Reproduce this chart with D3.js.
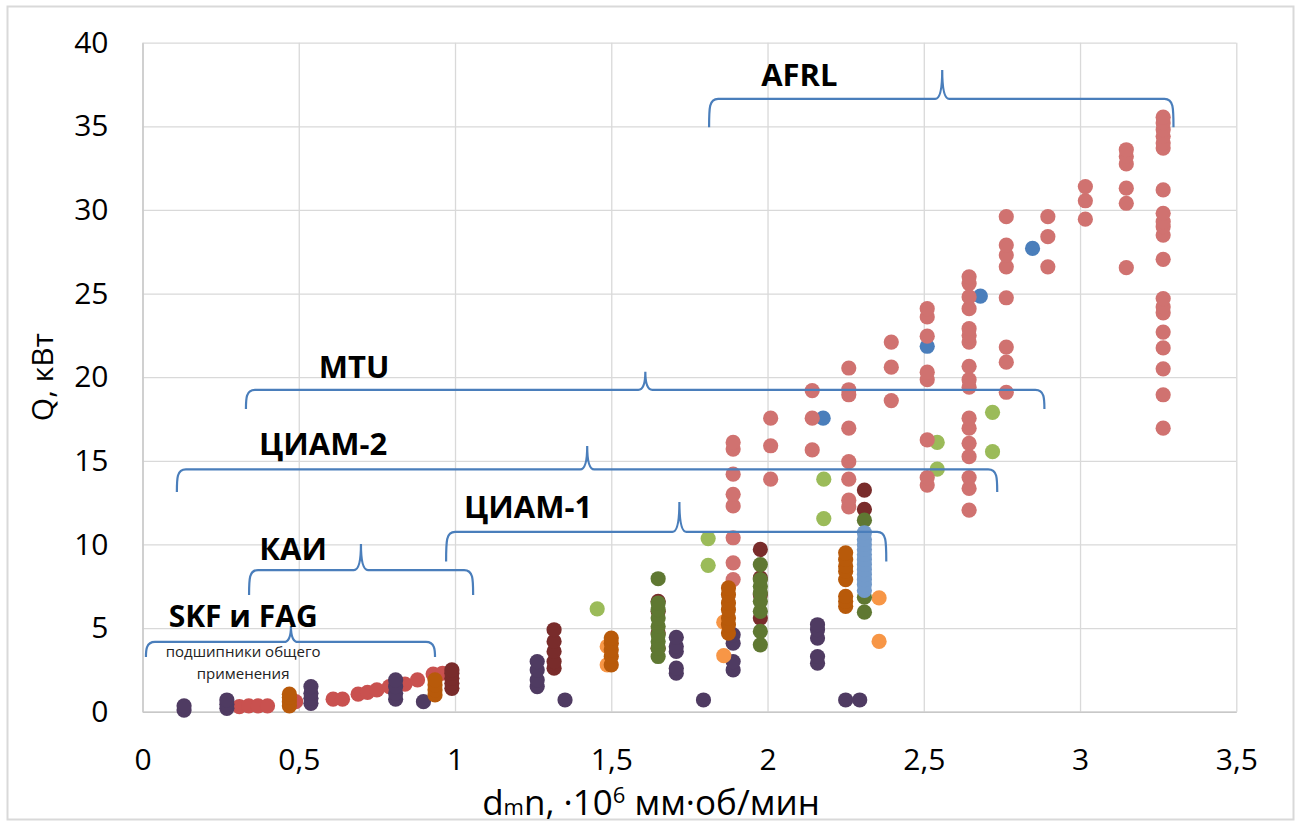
<!DOCTYPE html>
<html>
<head>
<meta charset="utf-8">
<script src="https://cdn.jsdelivr.net/npm/d3@7"></script>
<style>
  body { margin: 0; background: #fff; }
  text { font-family: "Open Sans", "Noto Sans", sans-serif; }
</style>
</head>
<body>
<div id="vis-container"></div>
<script>
// ticks
const xTicks = [0, 0.5, 1, 1.5, 2, 2.5, 3, 3.5];
const yTicks = [0, 5, 10, 15, 20, 25, 30, 35, 40];

// series, [dmn, Q]
const blue = [[2.178, 17.55], [2.511, 21.85], [2.681, 24.85], [2.848, 27.7]];
const lightGreen = [[1.455, 6.15], [1.81, 8.75], [1.81, 10.35], [2.18, 11.55], [2.18, 13.9],
    [2.543, 14.5], [2.543, 16.1], [2.72, 15.55], [2.72, 17.9]];
const pink = [
    [1.89, 7.9], [1.89, 8.9], [1.89, 10.4], [1.89, 12.3], [1.89, 13.0], [1.89, 14.2], [1.89, 15.7], [1.89, 16.1],
    [2.01, 13.9], [2.01, 15.9], [2.01, 17.55],
    [2.143, 15.65], [2.143, 17.55], [2.143, 19.2],
    [2.26, 12.25], [2.26, 12.65], [2.26, 13.9], [2.26, 14.95], [2.26, 16.95], [2.26, 18.95], [2.26, 19.25], [2.26, 20.55],
    [2.396, 18.6], [2.396, 20.6], [2.396, 22.1],
    [2.511, 13.55], [2.511, 14.0], [2.511, 16.25], [2.511, 19.85], [2.511, 20.3], [2.511, 22.45], [2.511, 23.6], [2.511, 24.1],
    [2.645, 12.05], [2.645, 13.35], [2.645, 14.0], [2.645, 15.25], [2.645, 16.05], [2.645, 16.95], [2.645, 17.55],
    [2.645, 19.4], [2.645, 19.85], [2.645, 20.65], [2.645, 22.1], [2.645, 22.5], [2.645, 22.9], [2.645, 24.1],
    [2.645, 24.8], [2.645, 25.6], [2.645, 26.0],
    [2.764, 19.1], [2.764, 20.9], [2.764, 21.8], [2.764, 24.75], [2.764, 26.6], [2.764, 27.3], [2.764, 27.9], [2.764, 29.6],
    [2.897, 26.6], [2.897, 28.4], [2.897, 29.6],
    [3.017, 29.45], [3.017, 30.55], [3.017, 31.4],
    [3.148, 26.55], [3.148, 30.4], [3.148, 31.3], [3.148, 32.75], [3.148, 33.2], [3.148, 33.6],
    [3.266, 16.95], [3.266, 18.95], [3.266, 20.5], [3.266, 21.75], [3.266, 22.7], [3.266, 23.85], [3.266, 24.2],
    [3.266, 24.7], [3.266, 27.05], [3.266, 28.5], [3.266, 29.0], [3.266, 29.3], [3.266, 29.8], [3.266, 31.2],
    [3.266, 33.7], [3.266, 34.0], [3.266, 34.4], [3.266, 34.8], [3.266, 35.2], [3.266, 35.55]];
const red = [[0.31, 0.3], [0.34, 0.35], [0.37, 0.35], [0.40, 0.35], [0.49, 0.6], [0.61, 0.75], [0.64, 0.75],
    [0.69, 1.05], [0.72, 1.15], [0.75, 1.3], [0.79, 1.5], [0.84, 1.65], [0.88, 1.9], [0.93, 2.25], [0.96, 2.3]];
const purple = [
    [0.133, 0.1], [0.133, 0.35],
    [0.27, 0.2], [0.27, 0.45], [0.27, 0.7],
    [0.539, 0.5], [0.539, 0.8], [0.539, 1.1], [0.539, 1.5],
    [0.81, 0.75], [0.81, 1.1], [0.81, 1.5], [0.81, 1.9],
    [0.899, 0.6],
    [1.263, 1.5], [1.263, 1.9], [1.263, 2.5], [1.263, 3.0],
    [1.352, 0.7],
    [1.708, 2.3], [1.708, 2.6], [1.708, 3.6], [1.708, 3.9], [1.708, 4.45],
    [1.795, 0.7],
    [1.89, 2.5], [1.89, 3.0], [1.89, 4.1], [1.89, 4.6],
    [2.16, 2.9], [2.16, 3.3], [2.16, 4.4], [2.16, 4.9], [2.16, 5.2],
    [2.25, 0.7], [2.295, 0.7]];
const lightOrange = [[1.487, 2.8], [1.487, 3.9], [1.86, 3.35], [1.86, 5.35], [2.357, 4.2], [2.357, 6.8]];
const orangeBrown = [
    [0.47, 0.35], [0.47, 0.6], [0.47, 0.85], [0.47, 1.05],
    [0.936, 1.0], [0.936, 1.3], [0.936, 1.6], [0.936, 1.9],
    [1.5, 2.8], [1.5, 3.3], [1.5, 3.7], [1.5, 4.1], [1.5, 4.4],
    [1.875, 4.7], [1.875, 5.2], [1.875, 5.6], [1.875, 6.1], [1.875, 6.5], [1.875, 7.0], [1.875, 7.4],
    [2.25, 6.3], [2.25, 6.6], [2.25, 6.9], [2.25, 7.9], [2.25, 8.4], [2.25, 8.7], [2.25, 9.1], [2.25, 9.5]];
const maroon = [
    [0.99, 1.4], [0.99, 1.7], [0.99, 2.0], [0.99, 2.3], [0.99, 2.5],
    [1.317, 2.6], [1.317, 3.0], [1.317, 3.6], [1.317, 4.2], [1.317, 4.9],
    [1.65, 3.8], [1.65, 4.7], [1.65, 6.0], [1.65, 6.6],
    [1.977, 5.6], [1.977, 7.0], [1.977, 8.0], [1.977, 9.7],
    [2.31, 12.1], [2.31, 13.25]];
const olive = [
    [1.65, 3.3], [1.65, 3.8], [1.65, 4.2], [1.65, 4.6], [1.65, 5.1], [1.65, 5.6], [1.65, 6.1], [1.65, 6.5], [1.65, 7.95],
    [1.977, 4.0], [1.977, 4.8], [1.977, 6.0], [1.977, 6.6], [1.977, 7.1], [1.977, 7.5], [1.977, 7.9], [1.977, 8.8],
    [2.31, 5.95], [2.31, 6.85], [2.31, 11.45]];
const lightBlue = [[2.31, 7.25], [2.31, 7.6], [2.31, 7.9], [2.31, 8.2], [2.31, 8.5], [2.31, 8.8],
    [2.31, 9.1], [2.31, 9.4], [2.31, 9.7], [2.31, 10.0], [2.31, 10.3], [2.31, 10.7]];

// brackets: x from, x to, tip x, level, tip top, end bottom (data units)
const bracketNames = ["AFRL", "MTU", "ЦИАМ-2", "ЦИАМ-1", "КАИ", "SKF и FAG"];
const bracketSpans = [
    [1.813, 3.299, 2.559, 36.64, 38.37, 34.95],
    [0.331, 2.886, 1.609, 19.24, 20.32, 18.10],
    [0.110, 2.735, 1.423, 14.49, 15.89, 13.14],
    [0.9715, 2.380, 1.718, 10.75, 12.54, 8.98],
    [0.341, 1.058, 0.699, 8.47, 10.03, 6.98],
    [0.011, 0.936, 0.475, 4.17, 5.13, 3.27]];
// label anchor (centre x, baseline y)
const bracketLabelPos = [[2.102, 37.42], [0.677, 19.96], [0.578, 15.35], [1.234, 11.58], [0.482, 9.07], [0.322, 5.07]];
const noteLines = ["подшипники общего", "применения"];
const notePos = [[0.322, 3.3], [0.322, 1.96]];

const margin = { top: 42.7, right: 64.7, bottom: 115.3, left: 142.5 };
const width = 1301;
const height = 827;

const svg = d3.select("#vis-container")
    .append("svg")
    .attr("width", width)
    .attr("height", height);

// chart frame
svg.append("rect")
    .attr("x", 7.5).attr("y", 6.5)
    .attr("width", 1286).attr("height", 813)
    .attr("fill", "#fff")
    .attr("stroke", "#d9d9d9")
    .attr("stroke-width", 2);

const x = d3.scaleLinear().domain([0, 3.5]).range([margin.left, width - margin.right]);
const y = d3.scaleLinear().domain([0, 40]).range([height - margin.bottom, margin.top]);

const ru = d3.formatLocale({ decimal: ",", thousands: " ", grouping: [3], currency: ["", ""] });
const fmt = ru.format("~g");

// grid
svg.append("g")
    .attr("transform", `translate(0,${height - margin.bottom})`)
    .call(d3.axisBottom(x).tickValues(xTicks).tickSize(-(height - margin.top - margin.bottom)).tickFormat(""))
    .call(g => g.select(".domain").remove())
    .call(g => g.selectAll("line").attr("stroke", "#d9d9d9").attr("stroke-width", 1.3));
svg.append("g")
    .attr("transform", `translate(${margin.left},0)`)
    .call(d3.axisLeft(y).tickValues(yTicks).tickSize(-(width - margin.left - margin.right)).tickFormat(""))
    .call(g => g.select(".domain").remove())
    .call(g => g.selectAll("line").attr("stroke", "#d9d9d9").attr("stroke-width", 1.3));

// axis lines + labels
svg.append("g")
    .attr("transform", `translate(0,${height - margin.bottom})`)
    .call(d3.axisBottom(x).tickValues(xTicks).tickSize(0).tickPadding(58).tickFormat(fmt))
    .call(g => g.select(".domain").attr("stroke", "#c8c8c8").attr("stroke-width", 1.5))
    .call(g => g.selectAll("text").attr("font-size", "30px").attr("fill", "#000")
        .attr("dy", 0).attr("font-family", "Open Sans"));
svg.append("g")
    .attr("transform", `translate(${margin.left},0)`)
    .call(d3.axisLeft(y).tickValues(yTicks).tickSize(0).tickPadding(34).tickFormat(fmt))
    .call(g => g.select(".domain").attr("stroke", "#c8c8c8").attr("stroke-width", 1.5))
    .call(g => g.selectAll("text").attr("font-size", "30px").attr("fill", "#000")
        .attr("font-family", "Open Sans"));

// axis titles
svg.append("text")
    .attr("transform", `translate(53,${(y(0) + y(40)) / 2}) rotate(-90)`)
    .attr("text-anchor", "middle")
    .attr("font-size", "30px")
    .text("Q, кВт");

const xt = svg.append("text")
    .attr("x", 651).attr("y", 815)
    .attr("text-anchor", "middle")
    .attr("font-size", "35px");
xt.append("tspan").text("d");
xt.append("tspan").attr("font-size", "22px").text("m");
xt.append("tspan").text("n, ·10");
xt.append("tspan").attr("font-size", "22px").attr("dy", -12).text("6");
xt.append("tspan").attr("dy", 12).text(" мм·об/мин");

// points, in drawing order
const series = [
    { pts: blue, color: "#4a7ebb" },
    { pts: lightGreen, color: "#9bbb59" },
    { pts: pink, color: "#d07270" },
    { pts: red, color: "#c9514f" },
    { pts: purple, color: "#4f3b62" },
    { pts: lightOrange, color: "#f79646" },
    { pts: orangeBrown, color: "#b85a0a" },
    { pts: maroon, color: "#792c2b" },
    { pts: olive, color: "#5f7832" },
    { pts: lightBlue, color: "#729aca" }];

series.forEach(s => {
    svg.append("g").selectAll("circle")
        .data(s.pts)
        .enter()
        .append("circle")
        .attr("cx", d => x(d[0]))
        .attr("cy", d => y(d[1]))
        .attr("r", 7.6)
        .style("fill", s.color);
});

// braces
function bracePath(b) {
    const x0 = x(b[0]), x1 = x(b[1]), xt = x(b[2]);
    const yl = y(b[3]), ytop = y(b[4]), ybot = y(b[5]);
    const r = Math.min(9, (ybot - yl) * 0.6);
    const w = 7;
    return `M${x0},${ybot} C${x0},${yl + r} ${x0},${yl} ${x0 + r},${yl}` +
        ` L${xt - w},${yl} Q${xt},${yl} ${xt},${ytop} Q${xt},${yl} ${xt + w},${yl}` +
        ` L${x1 - r},${yl} C${x1},${yl} ${x1},${yl + r} ${x1},${ybot}`;
}

svg.append("g").selectAll("path")
    .data(bracketSpans)
    .enter()
    .append("path")
    .attr("d", bracePath)
    .attr("fill", "none")
    .attr("stroke", "#4a7ebb")
    .attr("stroke-width", 2.2);

svg.append("g").selectAll("text")
    .data(bracketNames)
    .enter()
    .append("text")
    .attr("x", (d, i) => x(bracketLabelPos[i][0]))
    .attr("y", (d, i) => y(bracketLabelPos[i][1]))
    .attr("text-anchor", "middle")
    .attr("font-weight", "bold")
    .attr("font-size", (d, i) => i === 5 ? "30px" : "31px")
    .text(d => d);

svg.append("g").selectAll("text")
    .data(noteLines)
    .enter()
    .append("text")
    .attr("x", (d, i) => x(notePos[i][0]))
    .attr("y", (d, i) => y(notePos[i][1]))
    .attr("text-anchor", "middle")
    .attr("font-size", "15px")
    .attr("fill", "#222")
    .text(d => d);
</script>
</body>
</html>
